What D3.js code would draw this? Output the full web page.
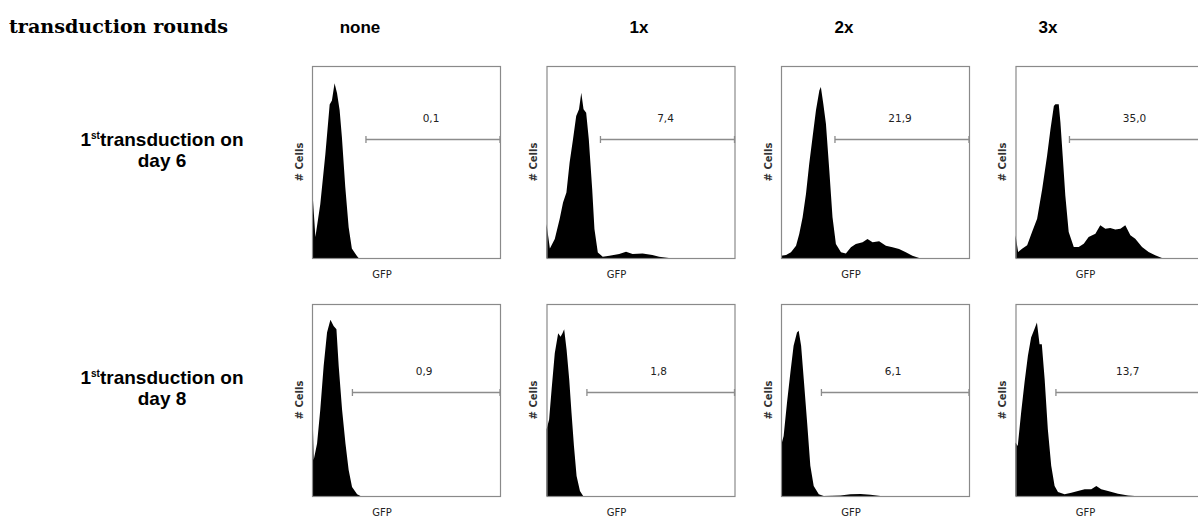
<!DOCTYPE html>
<html>
<head>
<meta charset="utf-8">
<script src="https://cdn.jsdelivr.net/npm/d3@7"></script>
<style>
  html, body { margin: 0; padding: 0; background: #fff; }
  svg { display: block; }
</style>
</head>
<body>
<svg id="chart" width="1198" height="518"></svg>
<script>
(function () {
  // column and row headers
  var rounds = ['none', '1x', '2x', '3x'];
  var days = ['day 6', 'day 8'];
  // % GFP+ cells inside the gate
  var gateValues = [
    ['0,1', '7,4', '21,9', '35,0'],
    ['0,9', '1,8', '6,1', '13,7']
  ];
  // gate start on the GFP axis (0-100), one per row
  var gateStart = [28.7, 21.5];

  // histograms: [GFP (0-100), cells (% of axis)]
  var d6None = [[0,0],[0,38],[1.8,11],[4.4,28],[7.1,54],[9.4,80],[10.6,82],[12,91],[13.3,86],
    [14.7,77],[15.9,63],[17.7,37],[19.5,16],[21.2,5],[23.9,1],[24.8,0]];
  var d6x1 = [[0,0],[0,17.7],[1.8,5],[4.4,9.9],[7,20.3],[8.8,28.9],[10.6,34.1],[12.3,49.7],[14.1,61.9],
    [15.8,74],[17.3,77.5],[18.5,86.1],[19.7,77.5],[21.1,75.7],[22.5,61.9],[24.3,35.9],[25.5,15.1],
    [27.3,2.9],[29.9,0.7],[33.5,1.2],[38.7,2.1],[42.3,3.3],[45.8,2.1],[51.1,2.4],[56.3,1.6],
    [59.9,0.7],[65.1,0]];
  var d6x2 = [[0,0],[0,1.2],[2.7,1.6],[5.3,3],[8,6.4],[9.7,12.5],[11.5,21.2],[13.3,33.4],[15,49],
    [16.8,63],[18.6,76.9],[20.4,87.3],[21.2,89],[22.5,80.3],[23.9,69.9],[25.7,45.6],[27.4,21.2],
    [29.2,7.3],[31.9,3],[34.5,2.4],[37.2,5.6],[39.8,7.3],[43.4,8.2],[46,9.9],[48.7,8.2],[52.2,8.7],
    [55.8,6.4],[59.3,5.6],[62.8,4.7],[66.4,3],[69.9,1.2],[73.5,0]];
  var d6x3 = [[0,0],[0,11.8],[1.4,3.1],[3.5,4.8],[6.2,6.6],[8.8,13.5],[11.5,20.4],[14.2,36],[16.8,53.3],
    [18.6,67.1],[20.4,79.2],[21.2,80.1],[23,80.1],[23.9,70.6],[25.1,53.3],[26.5,32.5],[28.3,13.5],
    [31,5.7],[33.6,5.7],[36.3,7.4],[38.9,10.9],[42.5,12.6],[45.1,17],[47.8,15.2],[50.4,15.6],
    [53.1,14.8],[55.8,15.2],[58.4,17],[61.1,11.8],[63.7,10],[67.3,5.7],[70.8,3.1],[74.3,1.4],[77.9,0]];
  var d8None = [[0,0],[0,57.2],[0.9,18.7],[2.7,27.4],[4.4,44.9],[6.2,67.7],[8,85.1],[9.8,91.8],
    [11.5,88.6],[13,86.9],[14.2,67.7],[16,44.9],[17.8,27.4],[19.5,13.5],[21.3,4.7],[24,0.9],[25.8,0]];
  var d8x1 = [[0,0],[0,34.6],[1.4,39.8],[2.7,55.4],[4.4,74.4],[6.2,84.8],[7.5,83],[8.5,84.8],
    [9.4,86.9],[10.7,76.1],[12.1,60.6],[13.3,43.3],[14.6,26],[16,10.4],[17.8,2.6],[19.5,0]];
  var d8x2 = [[0,0],[0,26.1],[1.4,31.3],[3.2,48.7],[5,64.3],[6.7,78.3],[8.5,85.2],[9.4,86.1],
    [10.7,78.3],[12.1,60.9],[13.9,38.3],[15.6,15.7],[17.4,5.2],[20.1,0.9],[22.7,0],[31.6,0.3],
    [36.9,0.9],[42.3,1],[47.6,0.7],[52.9,0]];
  var d8x3 = [[0,0],[0,27.8],[1.2,26.1],[3,43.5],[4.8,59.1],[6.6,73],[8.3,82.6],[10.1,87],[11.4,90.4],
    [12.8,79.1],[14,79.1],[15.5,60.9],[17.2,34.8],[19,15.7],[20.8,5.2],[22.6,2.1],[26.1,0.9],
    [29.7,1.7],[33.2,2.6],[36.8,3.5],[40.3,3.5],[43,5.2],[45.6,3.5],[49.2,2.6],[54.5,1.2],
    [59.9,0.3],[63.4,0]];
  var histograms = [
    [d6None, d6x1, d6x2, d6x3],
    [d8None, d8x1, d8x2, d8x3]
  ];

  // layout
  var panelW = 188, panelH = 192,
      colLeft = [312, 546.5, 781, 1015.5],
      rowTop = [66, 304],
      headerX = [360, 639, 844, 1048],
      gateLevel = [62, 54];

  var svg = d3.select('#chart');
  var sans = 'Liberation Sans, Arial, sans-serif',
      small = 'DejaVu Sans, sans-serif';

  svg.append('text')
    .attr('x', 9).attr('y', 33)
    .attr('textLength', 219).attr('lengthAdjust', 'spacingAndGlyphs')
    .style('font-family', 'DejaVu Serif, serif')
    .style('font-weight', 'bold').style('font-size', '19px')
    .text('transduction rounds');

  svg.selectAll('.round')
    .data(rounds)
    .enter().append('text')
      .attr('class', 'round')
      .attr('x', function (d, i) { return headerX[i]; })
      .attr('y', 33)
      .attr('text-anchor', 'middle')
      .style('font-family', sans).style('font-weight', 'bold').style('font-size', '17px')
      .text(function (d) { return d; });

  days.forEach(function (day, r) {
    var t = svg.append('text')
      .attr('x', 162).attr('y', rowTop[r] + 80)
      .attr('text-anchor', 'middle')
      .style('font-family', sans).style('font-weight', 'bold').style('font-size', '19px');
    t.append('tspan').text('1');
    t.append('tspan').attr('dy', -7).style('font-size', '10px').text('st');
    t.append('tspan').attr('dy', 7).text('transduction on');
    svg.append('text')
      .attr('x', 162).attr('y', rowTop[r] + 100.5)
      .attr('text-anchor', 'middle')
      .style('font-family', sans).style('font-weight', 'bold').style('font-size', '19px')
      .text(day);
  });

  var x = d3.scaleLinear().domain([0, 100]).range([0, panelW]),
      y = d3.scaleLinear().domain([0, 100]).range([panelH, 0]);

  var area = d3.area()
    .x(function (d) { return x(d[0]); })
    .y0(panelH)
    .y1(function (d) { return y(d[1]); });

  histograms.forEach(function (row, r) {
    row.forEach(function (hist, c) {
      var g = svg.append('g')
        .attr('transform', 'translate(' + colLeft[c] + ',' + rowTop[r] + ')');

      g.append('path')
        .datum(hist)
        .attr('d', area)
        .attr('fill', '#000');

      g.append('rect')
        .attr('x', 0.5).attr('y', 0.5)
        .attr('width', panelW).attr('height', panelH)
        .attr('fill', 'none')
        .attr('stroke', '#8a8a8a').attr('stroke-width', 1.2);

      // gate
      var gy = Math.round(y(gateLevel[r])) + 0.5,
          gx0 = x(gateStart[r]), gx1 = x(100);
      g.append('line')
        .attr('x1', gx0).attr('x2', gx1).attr('y1', gy).attr('y2', gy)
        .attr('stroke', '#8c8c8c').attr('stroke-width', 1.5);
      [gx0, gx1].forEach(function (tx) {
        g.append('line')
          .attr('x1', tx).attr('x2', tx).attr('y1', gy - 3.5).attr('y2', gy + 3.5)
          .attr('stroke', '#8c8c8c').attr('stroke-width', 1.3);
      });
      g.append('text')
        .attr('x', (gx0 + gx1) / 2 - 2).attr('y', gy - 18)
        .attr('text-anchor', 'middle')
        .style('font-family', small).style('font-size', '10.5px').style('fill', '#222')
        .text(gateValues[r][c]);

      g.append('text')
        .attr('x', 70).attr('y', panelH + 20)
        .attr('text-anchor', 'middle')
        .style('font-family', small).style('font-size', '10px').style('fill', '#222')
        .text('GFP');

      g.append('text')
        .attr('transform', 'translate(-13,' + (panelH / 2) + ') rotate(-90)')
        .attr('dy', '0.35em')
        .attr('text-anchor', 'middle')
        .style('font-family', small).style('font-size', '10px').style('font-weight', 'bold')
        .style('fill', '#333')
        .text('# Cells');
    });
  });
})();
</script>
</body>
</html>
